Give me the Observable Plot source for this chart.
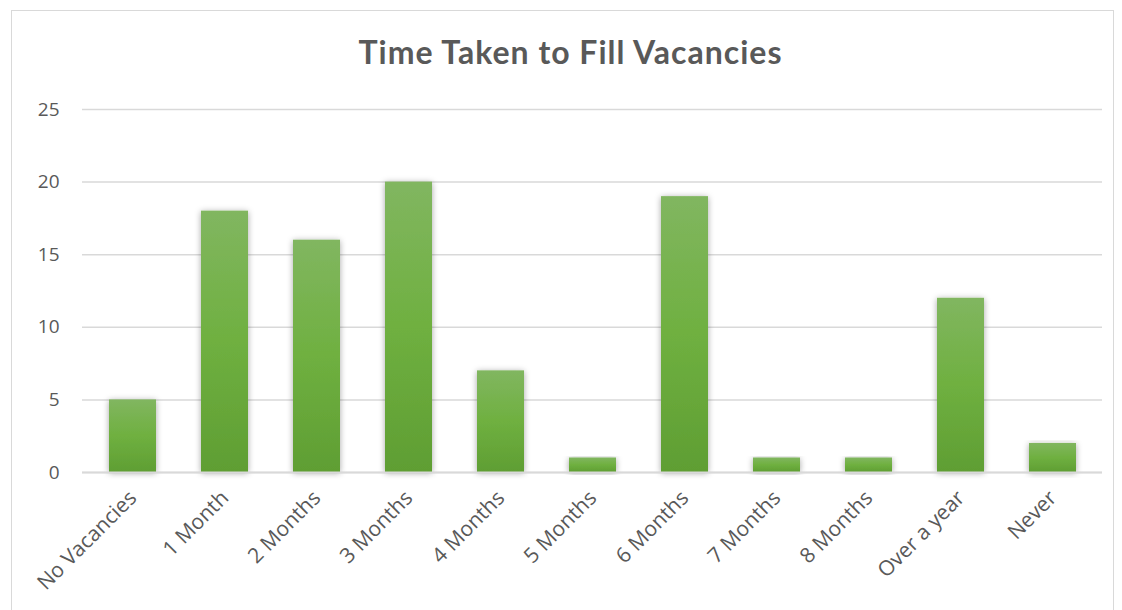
<!DOCTYPE html>
<html>
<head>
<meta charset="utf-8">
<script src="https://cdn.jsdelivr.net/npm/d3@7"></script>
<script src="https://cdn.jsdelivr.net/npm/@observablehq/plot@0.6"></script>
<style>
  html, body { margin: 0; padding: 0; background: #fff; overflow: hidden; }
  #frame { position: absolute; left: 11px; top: 10px; width: 1103px; height: 640px; border: 1px solid #d9d9d9; box-sizing: border-box; }
  #title { position: absolute; left: 0; top: 30px; width: 1141px; text-align: center; font-family: Lato, "Open Sans", sans-serif; font-weight: bold; font-size: 32px; letter-spacing: 1px; color: #595959; line-height: 44px; }
  #chart { position: absolute; left: 0; top: 80px; }
</style>
</head>
<body>
<div id="frame"></div>
<div id="title">Time Taken to Fill Vacancies</div>
<div id="chart"></div>
<script>
const categories = ["No Vacancies", "1 Month", "2 Months", "3 Months", "4 Months", "5 Months", "6 Months", "7 Months", "8 Months", "Over a year", "Never"];
const counts = [5, 18, 16, 20, 7, 1, 19, 1, 1, 12, 2];
const yTicks = [0, 5, 10, 15, 20, 25];

const data = categories.map((c, i) => ({category: c, count: counts[i]}));

const plot = Plot.plot({
  width: 1122,
  height: 530,
  marginTop: 29,
  marginBottom: 138,
  marginLeft: 82,
  marginRight: 20,
  style: {fontFamily: "'Open Sans', Lato, sans-serif", fontSize: "19px", color: "#595959", background: "transparent"},
  x: {domain: categories, paddingInner: 0.49, paddingOuter: 0.245, label: null, tickSize: 0, tickRotate: -45, tickPadding: 22},
  y: {domain: [0, 25], ticks: yTicks, label: null, tickSize: 0, tickPadding: 23},
  marks: [
    Plot.gridY(yTicks, {stroke: "#d9d9d9", strokeOpacity: 1, strokeWidth: 1.5}),
    Plot.barY(data, {x: "category", y: "count", fill: "url(#barGrad)"}),
    Plot.ruleY([0], {stroke: "#d9d9d9", strokeWidth: 2})
  ]
});

const svg = d3.select(plot);
svg.style("overflow", "visible");
const defs = svg.insert("defs", ":first-child");
const g = defs.append("linearGradient").attr("id", "barGrad").attr("x1", 0).attr("y1", 0).attr("x2", 0).attr("y2", 1);
g.append("stop").attr("offset", "0%").attr("stop-color", "#81b660");
g.append("stop").attr("offset", "50%").attr("stop-color", "#6fb040");
g.append("stop").attr("offset", "100%").attr("stop-color", "#5f9e33");
const f = defs.append("filter").attr("id", "shadow").attr("x", "-40%").attr("y", "-10%").attr("width", "180%").attr("height", "130%");
f.append("feDropShadow").attr("dx", 0).attr("dy", 1).attr("stdDeviation", 3).attr("flood-color", "#000").attr("flood-opacity", 0.35);
svg.selectAll("g[aria-label='bar'] rect").attr("filter", "url(#shadow)");
svg.selectAll("g[aria-label='x-axis tick label'] text").style("font-size", "21px");

document.getElementById("chart").appendChild(plot);
</script>
</body>
</html>
